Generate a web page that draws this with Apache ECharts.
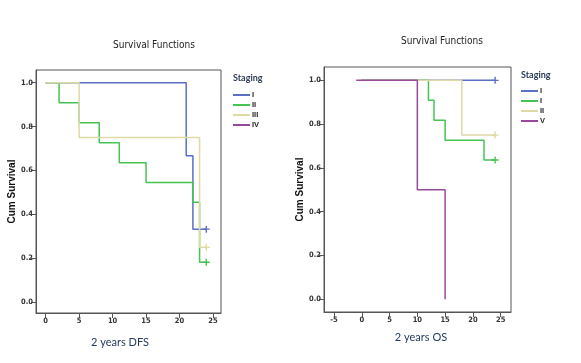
<!DOCTYPE html>
<html><head><meta charset="utf-8">
<script src="https://cdn.jsdelivr.net/npm/echarts@6/dist/echarts.min.js"></script>
<style>html,body{margin:0;padding:0;background:#fff}#c{width:581px;height:363px}</style>
</head><body><div id="c"></div>
<script>
// ---- data ----
const stageNames = ['I', 'II', 'III', 'IV'];
const osLegendLabels = ['I', 'I', 'II', 'V'];
const stageColors = ['#5b6fc6', '#45c454', '#dedaa6', '#9a4a9c'];
const yTicks = [0, 0.2, 0.4, 0.6, 0.8, 1.0];
const dfsXTicks = [0, 5, 10, 15, 20, 25];
const osXTicks = [-5, 0, 5, 10, 15, 20, 25];
// DFS survival steps [time, cum survival]
const dfsI = [[0, 1], [21, 0.667], [22, 0.333], [24, 0.333]];
const dfsII = [[0, 1], [2, 0.909], [5, 0.818], [8, 0.727], [11, 0.636], [15, 0.545], [22, 0.455], [23, 0.182], [24, 0.182]];
const dfsIII = [[0, 1], [5, 0.75], [23, 0.25], [24, 0.25]];
const dfsIV = [];
// OS survival steps
const osI = [[0, 1], [24, 1]];
const osII = [[0, 1], [12, 0.909], [13, 0.818], [15, 0.727], [22, 0.636], [24, 0.636]];
const osIII = [[0, 1], [18, 0.75], [24, 0.75]];
const osIV = [[-1, 1], [10, 0.5], [15, 0]];
// censored at last time point
const dfsCensored = [true, true, true, false];
const osCensored = [true, true, true, false];

const plus = 'path://M4,0H6V4H10V6H6V10H4V6H0V4H4Z';
const chart = echarts.init(document.getElementById('c'));
const tickFont = {fontSize: 7.5, fontWeight: 'bold', color: '#333', fontFamily: 'Liberation Sans Narrow, DejaVu Sans Condensed, sans-serif'};

function mkSeries(arrs, censored, prefix, gi) {
  return arrs.map((d, i) => ({
    type: 'line', name: prefix + stageNames[i], xAxisIndex: gi, yAxisIndex: gi,
    step: 'end', symbol: 'none', showSymbol: true, animation: false,
    lineStyle: {color: stageColors[i], width: 1.5}, itemStyle: {color: stageColors[i]},
    z: 2 + i,
    data: d.map((p, k) => (censored[i] && k === d.length - 1)
      ? {value: p, symbol: plus, symbolSize: 7}
      : {value: p, symbol: 'none'})
  }));
}
function xAx(gi, min, max, ticks) {
  return {type: 'value', gridIndex: gi, min: min, max: max, splitLine: {show: false},
    axisLine: {show: true, onZero: false, lineStyle: {color: '#555'}},
    axisTick: {show: true, length: 5, customValues: ticks, lineStyle: {color: '#555'}},
    axisLabel: Object.assign({customValues: ticks, margin: 4}, tickFont)};
}
function yAx(gi, min, max, gap) {
  return {type: 'value', gridIndex: gi, min: min, max: max, splitLine: {show: false},
    name: 'Cum Survival', nameLocation: 'middle', nameGap: gap,
    nameTextStyle: {fontSize: 10, fontWeight: 'bold', color: '#111', fontFamily: 'Liberation Sans, Arial, sans-serif'},
    axisLine: {show: true, onZero: false, lineStyle: {color: '#555'}},
    axisTick: {show: true, length: 5, customValues: yTicks, lineStyle: {color: '#555'}},
    axisLabel: Object.assign({customValues: yTicks, margin: 3, formatter: v => v.toFixed(1)}, tickFont)};
}
const titleStyle = {fontSize: 10, fontWeight: 'normal', color: '#222', fontFamily: 'Liberation Sans Narrow, DejaVu Sans Condensed, sans-serif'};
const xNameStyle = {fontSize: 11, fontWeight: 'normal', color: '#243a5e', fontFamily: 'Lato, Open Sans, sans-serif'};
const stagingStyle = {fontSize: 9, fontWeight: 'bold', color: '#2b3b55', fontFamily: 'Lato, Open Sans, sans-serif'};

chart.setOption({
  animation: false,
  title: [
    {text: 'Survival Functions', left: 149, top: 35, textAlign: 'center', textStyle: titleStyle},
    {text: 'Survival Functions', left: 437, top: 31, textAlign: 'center', textStyle: titleStyle},
    {text: '2 years DFS', left: 115, top: 332, textAlign: 'center', textStyle: xNameStyle},
    {text: '2 years OS', left: 416, top: 327, textAlign: 'center', textStyle: xNameStyle},
    {text: 'Staging', left: 228, top: 69, textStyle: stagingStyle},
    {text: 'Staging', left: 516, top: 66, textStyle: stagingStyle}
  ],
  legend: [
    {data: stageNames.map(n => 'DFS ' + n), orient: 'vertical', left: 228, top: 86, itemWidth: 17, itemHeight: 2,
     icon: 'rect', itemGap: 2, formatter: n => n.replace('DFS ', ''),
     textStyle: {fontSize: 7.5, fontWeight: 'bold', color: '#222', padding: [0, 0, 0, -3]}},
    {data: stageNames.map(n => 'OS ' + n), orient: 'vertical', left: 516, top: 82, itemWidth: 17, itemHeight: 2,
     icon: 'rect', itemGap: 2, formatter: n => osLegendLabels[stageNames.indexOf(n.replace('OS ', ''))],
     textStyle: {fontSize: 7.5, fontWeight: 'bold', color: '#222', padding: [0, 0, 0, -3]}}
  ],
  grid: [
    {left: 36, top: 70, width: 185, height: 243, show: true, borderColor: '#555', borderWidth: 1, backgroundColor: 'transparent'},
    {left: 324, top: 67, width: 187, height: 245, show: true, borderColor: '#555', borderWidth: 1, backgroundColor: 'transparent'}
  ],
  xAxis: [xAx(0, -1.45, 26.2, dfsXTicks), xAx(1, -6.8, 26.86, osXTicks)],
  yAxis: [yAx(0, -0.049, 1.058, 17), yAx(1, -0.058, 1.061, 16)],
  series: [].concat(
    mkSeries([dfsI, dfsII, dfsIII, dfsIV], dfsCensored, 'DFS ', 0),
    mkSeries([osI, osII, osIII, osIV], osCensored, 'OS ', 1)
  )
});
</script></body></html>
